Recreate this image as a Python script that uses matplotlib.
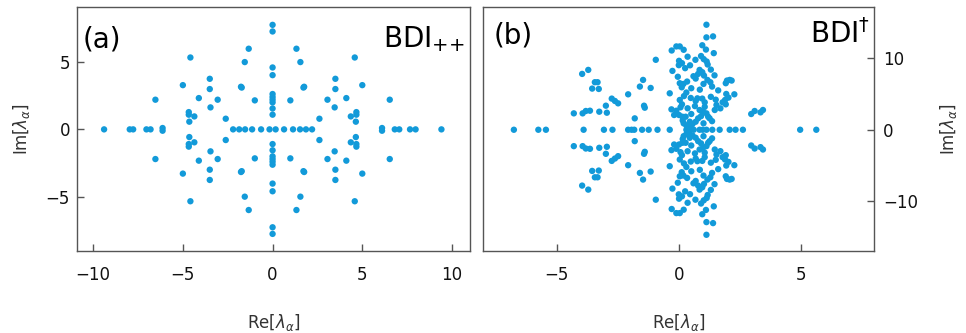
import matplotlib
matplotlib.use("Agg")
import matplotlib.pyplot as plt

plt.rcParams['font.family'] = ['DejaVu Sans']
plt.rcParams['mathtext.fontset'] = 'dejavusans'

# ---------------- panel (a): BDI_{++} eigenvalues ----------------
a_re = [
    # real axis
    -9.39, -7.96, -7.77, -7.03, -6.80, -6.13, -6.13, -2.20, -1.86, -1.53, -1.14, -0.64, -0.17,
    0.17, 0.64, 1.14, 1.53, 1.86, 2.20, 6.10, 6.10, 6.81, 7.06, 7.66, 7.97, 9.41,
    # imaginary axis
    0, 0, 0, 0, 0, 0, 0, 0, 0, 0, 0, 0, 0, 0, 0, 0, 0, 0, 0, 0,
    # quadrant Re>0, Im>0
    1.33, 1.55, 1.72, 1.76, 0.99, 2.61, 3.50, 3.50, 3.46, 4.11, 3.06, 4.58, 5.00, 6.53, 4.67, 4.67, 4.36, 4.64,
    # quadrant Re>0, Im<0
    1.33, 1.55, 1.72, 1.76, 0.99, 2.61, 3.50, 3.50, 3.46, 4.11, 3.06, 4.58, 5.00, 6.53, 4.67, 4.67, 4.36, 4.64,
    # quadrant Re<0, Im>0
    -1.33, -1.55, -1.72, -1.76, -0.99, -2.61, -3.50, -3.50, -3.46, -4.11, -3.06, -4.58, -5.00, -6.53, -4.67, -4.67, -4.36, -4.64,
    # quadrant Re<0, Im<0
    -1.33, -1.55, -1.72, -1.76, -0.99, -2.61, -3.50, -3.50, -3.46, -4.11, -3.06, -4.58, -5.00, -6.53, -4.67, -4.67, -4.36, -4.64,
]
a_im = [
    0, 0, 0, 0, 0, 0.10, -0.10, 0, 0, 0, 0, 0, 0,
    0, 0, 0, 0, 0, 0, 0.10, -0.10, 0, 0, 0, 0, 0,
    7.75, 7.26, 4.59, 4.02, 2.62, 2.40, 2.20, 2.00, 1.55, 1.09,
    -7.75, -7.26, -4.59, -4.02, -2.62, -2.40, -2.20, -2.00, -1.55, -1.09,
    5.98, 4.99, 3.10, 3.16, 2.15, 0.79, 3.75, 2.99, 1.63, 2.32, 2.20, 5.33, 3.28, 2.20, 1.28, 1.09, 0.96, 0.57,
    -5.98, -4.99, -3.10, -3.16, -2.15, -0.79, -3.75, -2.99, -1.63, -2.32, -2.20, -5.33, -3.28, -2.20, -1.28, -1.09, -0.96, -0.57,
    5.98, 4.99, 3.10, 3.16, 2.15, 0.79, 3.75, 2.99, 1.63, 2.32, 2.20, 5.33, 3.28, 2.20, 1.28, 1.09, 0.96, 0.57,
    -5.98, -4.99, -3.10, -3.16, -2.15, -0.79, -3.75, -2.99, -1.63, -2.32, -2.20, -5.33, -3.28, -2.20, -1.28, -1.09, -0.96, -0.57,
]

# ---------------- panel (b): BDI^dagger eigenvalues ----------------
b_re = [
    # real axis
    -6.75, -5.75, -5.44, -3.90, -3.07, -2.72, -2.08, -1.94, -1.83, -1.51, -1.24, -0.88, -0.38,
    0.30, 0.45, 0.60, 0.84, 0.97, 1.12, 1.36, 1.66, 2.07, 2.31, 2.61, 4.95, 5.61,
    # upper half plane
    -4.30, -3.96, -3.71, -3.44, -3.33, -3.55, -3.28, -2.75, -2.62, -2.49, -2.08, -3.94, -3.81, -3.64,
    -3.26, -2.99, -2.95, -1.81, -1.60, -1.47, -1.16, -1.43, -1.40, -0.95,
    -0.38, -0.27, -0.30, -0.11, 0.03, 0.19, 0.00, 0.12, -0.01, 0.67, 1.01, 1.13, 1.17, 0.84, 0.95,
    0.78, 1.02, 0.59, 0.68, 0.03, 0.18, 0.11, 0.33, 1.16, 1.28, 1.35, 1.12, 1.12, 1.39, 1.42,
    1.91, 1.96, 2.07, 2.15, 1.93, 2.26, 2.02, 1.88, 1.78, 1.91, 0.48, 0.75, 0.68, 0.95, 1.05,
    0.03, 0.12, -0.31, -0.11, 0.06, -0.20, 0.00, 0.14, 0.27, 0.44, 0.55, 0.68, 0.78, 0.84, 0.98,
    1.12, 1.19, 1.25, 1.46, 1.69, 1.53, 0.30, 0.41, 0.19, 2.95, 3.09, 3.33, 3.43,
    0.35, 0.45, 0.25, 0.90, 1.30, 1.45, 0.50, 0.85, 1.00, 1.60, 0.30, 0.20, 1.30, 1.50,
    0.35, 0.65, 1.05, 0.50, 0.90, 1.00, 0.15, 1.35, -0.05, 0.95, 1.10,
    # lower half plane
    -4.30, -3.96, -3.71, -3.44, -3.33, -3.55, -3.28, -2.75, -2.62, -2.49, -2.08, -3.94, -3.81, -3.64,
    -3.26, -2.99, -2.95, -1.81, -1.60, -1.47, -1.16, -1.43, -1.40, -0.95,
    -0.38, -0.27, -0.30, -0.11, 0.03, 0.19, 0.00, 0.12, -0.01, 0.67, 1.01, 1.13, 1.17, 0.84, 0.95,
    0.78, 1.02, 0.59, 0.68, 0.03, 0.18, 0.11, 0.33, 1.16, 1.28, 1.35, 1.12, 1.12, 1.39, 1.42,
    1.91, 1.96, 2.07, 2.15, 1.93, 2.26, 2.02, 1.88, 1.78, 1.91, 0.48, 0.75, 0.68, 0.95, 1.05,
    0.03, 0.12, -0.31, -0.11, 0.06, -0.20, 0.00, 0.14, 0.27, 0.44, 0.55, 0.68, 0.78, 0.84, 0.98,
    1.12, 1.19, 1.25, 1.46, 1.69, 1.53, 0.30, 0.41, 0.19, 2.95, 3.09, 3.33, 3.43,
    0.35, 0.45, 0.25, 0.90, 1.30, 1.45, 0.50, 0.85, 1.00, 1.60, 0.30, 0.20, 1.30, 1.50,
    0.35, 0.65, 1.05, 0.50, 0.90, 1.00, 0.15, 1.35, -0.05, 0.95, 1.10,
]
b_im = [
    0, 0, 0, 0, 0, 0, 0, 0, 0, 0, 0, 0, 0,
    0, 0, 0, 0, 0, 0, 0, 0, 0, 0, 0, 0, 0,
    2.29, 7.80, 8.36, 6.64, 6.64, 5.75, 5.70, 4.35, 4.02, 3.69, 4.95, 2.29, 2.62, 2.66,
    2.52, 3.36, 2.38, 1.59, 6.03, 6.96, 5.84, 3.36, 3.08, 9.77,
    5.09, 8.22, 11.07, 11.64, 11.64, 11.17, 9.63, 9.30, 9.02, 9.77, 9.86, 9.53, 9.11, 8.36, 8.04,
    7.80, 7.57, 7.48, 7.15, 6.50, 6.40, 5.93, 6.73, 6.96, 6.64, 6.03, 14.67, 12.90, 13.04, 10.70,
    6.50, 6.87, 6.96, 6.87, 5.00, 4.95, 4.49, 4.16, 3.83, 3.55, 4.44, 4.39, 4.02, 4.35, 3.83,
    4.16, 3.55, 2.85, 2.66, 3.13, 2.06, 2.06, 1.82, 1.82, 1.12, 0.79, 1.12, 1.59, 2.76, 2.52,
    2.29, 1.82, 1.59, 2.76, 2.99, 3.46, 0.61, 0.33, 0.89, 2.20, 2.62, 2.43, 2.76,
    10.20, 9.00, 8.60, 10.30, 8.40, 7.60, 5.80, 5.60, 6.40, 5.50, 5.20, 4.70, 4.60, 4.20,
    3.00, 3.30, 3.20, 2.20, 1.90, 0.90, 1.30, 1.20, 7.40, 11.80, 11.20,
    -2.29, -7.80, -8.36, -6.64, -6.64, -5.75, -5.70, -4.35, -4.02, -3.69, -4.95, -2.29, -2.62, -2.66,
    -2.52, -3.36, -2.38, -1.59, -6.03, -6.96, -5.84, -3.36, -3.08, -9.77,
    -5.09, -8.22, -11.07, -11.64, -11.64, -11.17, -9.63, -9.30, -9.02, -9.77, -9.86, -9.53, -9.11, -8.36, -8.04,
    -7.80, -7.57, -7.48, -7.15, -6.50, -6.40, -5.93, -6.73, -6.96, -6.64, -6.03, -14.67, -12.90, -13.04, -10.70,
    -6.50, -6.87, -6.96, -6.87, -5.00, -4.95, -4.49, -4.16, -3.83, -3.55, -4.44, -4.39, -4.02, -4.35, -3.83,
    -4.16, -3.55, -2.85, -2.66, -3.13, -2.06, -2.06, -1.82, -1.82, -1.12, -0.79, -1.12, -1.59, -2.76, -2.52,
    -2.29, -1.82, -1.59, -2.76, -2.99, -3.46, -0.61, -0.33, -0.89, -2.20, -2.62, -2.43, -2.76,
    -10.20, -9.00, -8.60, -10.30, -8.40, -7.60, -5.80, -5.60, -6.40, -5.50, -5.20, -4.70, -4.60, -4.20,
    -3.00, -3.30, -3.20, -2.20, -1.90, -0.90, -1.30, -1.20, -7.40, -11.80, -11.20,
]

a_xticks = [-10, -5, 0, 5, 10]
a_yticks = [-5, 0, 5]
b_xticks = [-5, 0, 5]
b_yticks = [-10, 0, 10]
panel_labels = ['(a)', '(b)']
class_labels = [r'BDI$_{{+}{+}}$', r'BDI$^{\dagger}$']
xlabel = r'Re[$\lambda_\alpha$]'
ylabel = r'Im[$\lambda_\alpha$]'

dot_color = '#129ad9'
frame_color = '#555555'

fig = plt.figure(figsize=(9.66, 3.33), dpi=100)
ax1 = fig.add_axes([0.0797, 0.247, 0.4068, 0.731])
ax2 = fig.add_axes([0.5003, 0.247, 0.4040, 0.731])

for ax in (ax1, ax2):
    for sp in ax.spines.values():
        sp.set_color(frame_color)
        sp.set_linewidth(1.0)
    ax.tick_params(direction='in', length=5, width=1.0, color=frame_color,
                   labelsize=12, labelcolor='#111111')
    ax.tick_params(axis='x', pad=11)

ax1.scatter(a_re, a_im, s=21, color=dot_color, edgecolors='none', zorder=3)
ax1.set_xlim(-10.9, 11.0)
ax1.set_ylim(-9.0, 9.05)
ax1.set_xticks(a_xticks)
ax1.set_yticks(a_yticks)
ax1.set_xticklabels(['\u221210', '\u22125', '0', '5', '10'])
ax1.set_yticklabels(['\u22125', '0', '5'])
ax1.tick_params(axis='y', pad=5)
ax1.set_xlabel(xlabel, fontsize=12, color='#333333', labelpad=20)
ax1.set_ylabel(ylabel, fontsize=12, color='#333333', labelpad=10)
ax1.text(0.015, 0.837, panel_labels[0], transform=ax1.transAxes, fontsize=20,
         ha='left', va='baseline')
ax1.text(0.987, 0.837, class_labels[0], transform=ax1.transAxes, fontsize=20,
         ha='right', va='baseline')

ax2.scatter(b_re, b_im, s=21, color=dot_color, edgecolors='none', zorder=3)
ax2.set_xlim(-8.0, 7.95)
ax2.set_ylim(-16.9, 17.1)
ax2.set_xticks(b_xticks)
ax2.set_yticks(b_yticks)
ax2.set_xticklabels(['\u22125', '0', '5'])
ax2.set_yticklabels(['\u221210', '0', '10'])
ax2.yaxis.tick_right()
ax2.yaxis.set_label_position('right')
ax2.tick_params(axis='y', pad=7, left=False, right=True)
ax2.set_xlabel(xlabel, fontsize=12, color='#333333', labelpad=20)
ax2.set_ylabel(ylabel, fontsize=12, color='#333333', labelpad=14, rotation=90)
ax2.text(0.026, 0.853, panel_labels[1], transform=ax2.transAxes, fontsize=20,
         ha='left', va='baseline')
ax2.text(0.99, 0.853, class_labels[1], transform=ax2.transAxes, fontsize=20,
         ha='right', va='baseline')

fig.savefig('out.png', dpi=100)
